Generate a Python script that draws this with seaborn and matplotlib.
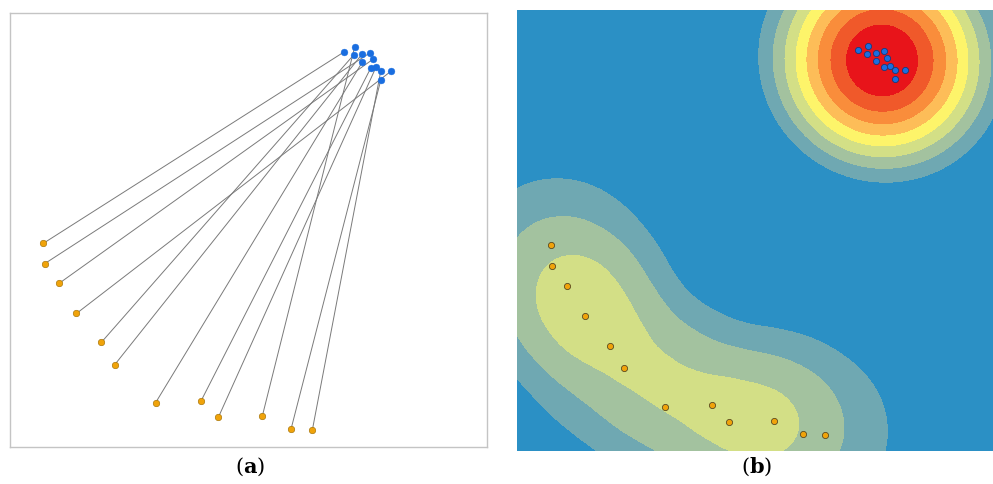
import matplotlib
matplotlib.use("Agg")
import matplotlib.pyplot as plt
import numpy as np
import seaborn as sns

# point positions (same frame for both panels, y pointing up)
orange_x = [34, 35.3, 50, 67.7, 93, 106.7, 148.3, 194.7, 212.3, 257, 286.3, 308]
orange_y = [206, 185.3, 165.3, 134.7, 105.3, 82.7, 44, 46, 29.3, 30.3, 17.3, 16.3]
blue_x = [340.7, 351, 350, 358.7, 367, 359, 369.7, 367.3, 373, 377.7, 388.3, 377.7]
blue_y = [400.7, 405, 397.3, 398.3, 399.7, 390.3, 393, 383.7, 385.3, 381, 381, 371.7]
# which blue point each orange point is linked to
link = [0, 4, 6, 10, 2, 3, 5, 7, 8, 1, 11, 9]

panel_labels = ["a", "b"]
band_colors = ["#2b90c5", "#6fa8b2", "#a3c29f", "#d3df86", "#fdf46a",
               "#fdbd58", "#f98d3b", "#f0592a", "#e8141a"]
radius = 148

sns.set_theme(style="white")
plt.rcParams['font.family'] = ['DejaVu Serif']
plt.rcParams['mathtext.fontset'] = 'dejavuserif'

fig = plt.figure(figsize=(9.93, 4.84), dpi=100)
ax1 = fig.add_axes([0.0101, 0.0764, 0.4804, 0.8967])
ax2 = fig.add_axes([0.5206, 0.0682, 0.4794, 0.9112])

# (a) links between the two point sets
for i, j in enumerate(link):
    ax1.plot([orange_x[i], blue_x[j]], [orange_y[i], blue_y[j]],
             color="#7a7a7a", lw=0.7, zorder=1)
sns.scatterplot(x=orange_x, y=orange_y, ax=ax1, color="#f0a30a", s=22,
                edgecolor="#9a6a00", linewidth=0.4, zorder=3)
sns.scatterplot(x=blue_x, y=blue_y, ax=ax1, color="#1a6ee0", s=24,
                edgecolor="#1a6ee0", linewidth=0.3, zorder=3)
ax1.set_xlim(0, 486)
ax1.set_ylim(-1, 440)
ax1.set_xticks([])
ax1.set_yticks([])
for sp in ax1.spines.values():
    sp.set_color("#c4c4c4")
    sp.set_linewidth(1.0)

# (b) kernel density of all points (quartic kernel)
gx = np.linspace(0, 476, 420)
gy = np.linspace(0, 441, 390)
X, Y = np.meshgrid(gx, gy)
px = np.array(orange_x + blue_x)
py = np.array(orange_y + blue_y)
dens = np.zeros_like(X)
for xx, yy in zip(px, py):
    d2 = ((X - xx) ** 2 + (Y - yy) ** 2) / radius ** 2
    dens += np.where(d2 < 1, (1 - d2) ** 2, 0)
top = dens.max()
levels = [-1] + [top * k / 9 for k in range(1, 9)] + [top * 1.01]
ax2.set_facecolor(band_colors[0])
ax2.contourf(X, Y, dens, levels=levels, colors=band_colors, antialiased=False)
sns.scatterplot(x=orange_x, y=orange_y, ax=ax2, color="#f0a30a", s=20,
                edgecolor="#5a4a20", linewidth=0.6, zorder=3)
sns.scatterplot(x=blue_x, y=blue_y, ax=ax2, color="#1a6ee0", s=20,
                edgecolor="#1a3a7a", linewidth=0.6, zorder=3)
ax2.set_xlim(0, 476)
ax2.set_ylim(0, 441)
ax2.set_xticks([])
ax2.set_yticks([])
for sp in ax2.spines.values():
    sp.set_visible(False)

fig.text(0.2518, 0.035, r"($\mathbf{%s}$)" % panel_labels[0], ha="center", va="center",
         fontsize=15, color="black")
fig.text(0.7623, 0.035, r"($\mathbf{%s}$)" % panel_labels[1], ha="center", va="center",
         fontsize=15, color="black")

fig.savefig("out.png", dpi=100)
